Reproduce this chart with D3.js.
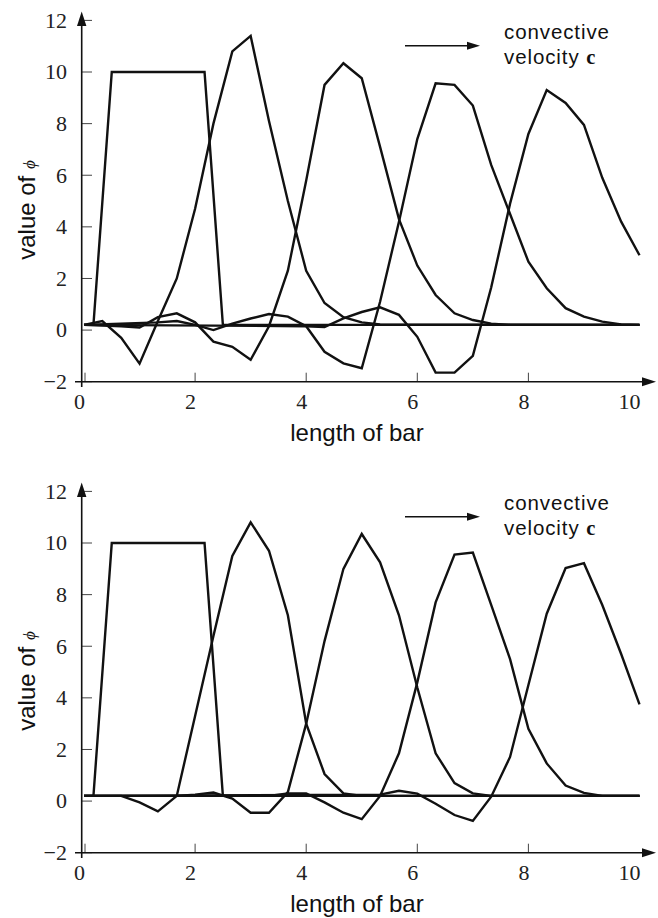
<!DOCTYPE html>
<html>
<head>
<meta charset="utf-8">
<script src="https://cdn.jsdelivr.net/npm/d3@7"></script>
<style>
  body { margin: 0; background: #fff; }
  .tick-label { font-family: "Liberation Serif", "Times New Roman", serif; font-size: 22px; fill: #222; }
  .axis-title { font-family: "Liberation Sans", Arial, sans-serif; font-size: 24px; fill: #111; }
  .note { font-family: "Liberation Sans", Arial, sans-serif; font-size: 20.5px; fill: #111; }
</style>
</head>
<body>
<div id="chart"></div>
<script>
// tick values shared by both panels
const xTicks = [0, 2, 4, 6, 8, 10];
const yTicks = [-2, 0, 2, 4, 6, 8, 10, 12];

// initial square pulse (same in both panels)
const pulse = [[0,0.2],[0.17,0.2],[0.5,10],[2.17,10],[2.5,0.2],[10,0.2]];

// top panel: oscillating solutions, [x, phi]
const topT1 = [[0,0.2],[0.33,0.35],[0.67,-0.3],[1.0,-1.3],[1.33,0.35],[1.67,2.0],[2.0,4.7],[2.33,8.0],[2.67,10.8],[3.0,11.4],[3.33,8.1],[3.67,5.0],[4.0,2.3],[4.33,1.05],[4.67,0.5],[5.0,0.3],[5.33,0.22],[10,0.2]];
const topT2 = [[0,0.2],[0.67,0.15],[1.0,0.1],[1.33,0.5],[1.67,0.65],[2.0,0.3],[2.33,-0.45],[2.67,-0.65],[3.0,-1.15],[3.33,0.15],[3.67,2.3],[4.0,5.8],[4.33,9.5],[4.67,10.34],[5.0,9.76],[5.33,7.1],[5.67,4.3],[6.0,2.5],[6.33,1.36],[6.67,0.65],[7.0,0.39],[7.33,0.25],[7.67,0.2],[10,0.2]];
const topT3 = [[0,0.2],[1.33,0.3],[1.67,0.35],[2.0,0.2],[2.33,0.0],[2.67,0.25],[3.0,0.45],[3.33,0.62],[3.67,0.52],[4.0,0.15],[4.33,-0.84],[4.67,-1.29],[5.0,-1.48],[5.33,1.1],[5.67,4.2],[6.0,7.4],[6.33,9.56],[6.67,9.5],[7.0,8.7],[7.33,6.4],[7.67,4.5],[8.0,2.65],[8.33,1.62],[8.67,0.85],[9.0,0.52],[9.33,0.33],[9.67,0.22],[10,0.2]];
const topT4 = [[0,0.2],[4.0,0.15],[4.33,0.12],[4.67,0.45],[5.0,0.7],[5.33,0.88],[5.67,0.59],[6.0,-0.26],[6.33,-1.65],[6.67,-1.65],[7.0,-1.0],[7.33,1.65],[7.67,4.9],[8.0,7.6],[8.33,9.3],[8.67,8.8],[9.0,7.95],[9.33,5.9],[9.67,4.2],[10.0,2.9]];

// bottom panel: damped solutions
const botT1 = [[0,0.2],[0.67,0.2],[1.0,-0.05],[1.33,-0.4],[1.67,0.2],[2.0,3.3],[2.33,6.4],[2.67,9.5],[3.0,10.8],[3.33,9.7],[3.67,7.2],[4.0,3.0],[4.33,1.05],[4.67,0.3],[5.0,0.2],[10,0.2]];
const botT2 = [[0,0.2],[1.67,0.2],[2.0,0.25],[2.33,0.33],[2.67,0.1],[3.0,-0.45],[3.33,-0.45],[3.67,0.35],[4.0,3.0],[4.33,6.2],[4.67,9.0],[5.0,10.35],[5.33,9.25],[5.67,7.2],[6.0,4.4],[6.33,1.85],[6.67,0.7],[7.0,0.3],[7.33,0.2],[10,0.2]];
const botT3 = [[0,0.2],[3.33,0.2],[3.67,0.3],[4.0,0.3],[4.33,-0.05],[4.67,-0.45],[5.0,-0.7],[5.33,0.2],[5.67,1.85],[6.0,4.6],[6.33,7.7],[6.67,9.55],[7.0,9.63],[7.33,7.6],[7.67,5.5],[8.0,2.8],[8.33,1.46],[8.67,0.6],[9.0,0.32],[9.33,0.2],[10,0.2]];
const botT4 = [[0,0.2],[5.33,0.25],[5.67,0.4],[6.0,0.29],[6.33,-0.1],[6.67,-0.54],[7.0,-0.77],[7.33,0.17],[7.67,1.71],[8.0,4.5],[8.33,7.26],[8.67,9.03],[9.0,9.22],[9.33,7.6],[9.67,5.7],[10.0,3.75]];

const W = 658, H = 918;

const svg = d3.select("#chart")
    .append("svg")
    .attr("width", W)
    .attr("height", H);

function drawPanel(top, curves) {
    const g = svg.append("g")
        .attr("transform", `translate(0,${top})`);

    const x = d3.scaleLinear().domain([0, 10]).range([84, 639.5]);
    const y = d3.scaleLinear().domain([-2, 12]).range([381.7, 20.4]);

    // y ticks: short marks inside the axis
    g.selectAll(".ytick")
        .data(yTicks)
        .join("line")
        .attr("x1", x(0) - 2).attr("x2", x(0) + 8)
        .attr("y1", d => y(d)).attr("y2", d => y(d))
        .attr("stroke", "#444")
        .attr("stroke-width", 1);

    g.selectAll(".ylab")
        .data(yTicks)
        .join("text")
        .attr("class", "tick-label")
        .attr("x", 67)
        .attr("y", d => y(d))
        .attr("dy", "0.33em")
        .attr("text-anchor", "end")
        .text(d => d < 0 ? "\u2212" + Math.abs(d) : d);

    // x ticks pointing up
    g.selectAll(".xtick")
        .data(xTicks.filter(d => d < 10))
        .join("line")
        .attr("x1", d => x(d) + (d === 0 ? 1 : 0)).attr("x2", d => x(d) + (d === 0 ? 1 : 0))
        .attr("y1", y(-2)).attr("y2", y(-2) - 9)
        .attr("stroke", "#444")
        .attr("stroke-width", 1);

    g.selectAll(".xlab")
        .data(xTicks)
        .join("text")
        .attr("class", "tick-label")
        .attr("x", d => x(d) + 1)
        .attr("y", 409)
        .attr("text-anchor", "end")
        .text(d => d);

    // axis lines with arrow heads
    g.append("line")
        .attr("x1", 81.7).attr("x2", 81.7)
        .attr("y1", 387).attr("y2", 22)
        .attr("stroke", "#111").attr("stroke-width", 1.6);
    g.append("path")
        .attr("d", `M81.7,11.5 L77,26 L86.4,26 Z`)
        .attr("fill", "#111");

    g.append("line")
        .attr("x1", 75).attr("x2", 645)
        .attr("y1", y(-2)).attr("y2", y(-2))
        .attr("stroke", "#111").attr("stroke-width", 1.6);
    g.append("path")
        .attr("d", `M656,${y(-2)} L642,${y(-2) - 4.5} L642,${y(-2) + 4.5} Z`)
        .attr("fill", "#111");

    // solution curves
    const line = d3.line()
        .x(d => x(d[0]))
        .y(d => y(d[1]));

    g.selectAll(".curve")
        .data(curves)
        .join("path")
        .attr("fill", "none")
        .attr("stroke", "#111")
        .attr("stroke-width", 2.4)
        .attr("stroke-linejoin", "miter")
        .attr("d", d => line(d));

    // axis titles
    g.append("text")
        .attr("class", "axis-title")
        .attr("x", 357)
        .attr("y", 440.5)
        .attr("text-anchor", "middle")
        .text("length of bar");

    const yt = g.append("text")
        .attr("class", "axis-title")
        .attr("transform", "translate(35,210) rotate(-90)")
        .attr("text-anchor", "middle");
    yt.append("tspan").text("value of ");
    yt.append("tspan")
        .style("font-family", "'Liberation Serif', serif")
        .style("font-style", "italic")
        .style("font-size", "17px")
        .text("\u03D5");

    // convective velocity annotation
    g.append("line")
        .attr("x1", 405).attr("x2", 470)
        .attr("y1", 45.7).attr("y2", 45.7)
        .attr("stroke", "#111").attr("stroke-width", 1.4);
    g.append("path")
        .attr("d", "M480,45.7 L467,41.7 L467,49.7 Z")
        .attr("fill", "#111");

    g.append("text")
        .attr("class", "note")
        .attr("x", 504)
        .attr("y", 39)
        .attr("letter-spacing", "0.9px")
        .text("convective");
    const vt = g.append("text")
        .attr("class", "note")
        .attr("x", 504)
        .attr("y", 64)
        .attr("letter-spacing", "0.9px");
    vt.append("tspan").text("velocity ");
    vt.append("tspan")
        .style("font-family", "'Liberation Serif', serif")
        .style("font-weight", "bold")
        .text("c");
}

drawPanel(0, [pulse, topT1, topT2, topT3, topT4]);
drawPanel(471, [pulse, botT1, botT2, botT3, botT4]);
</script>
</body>
</html>
